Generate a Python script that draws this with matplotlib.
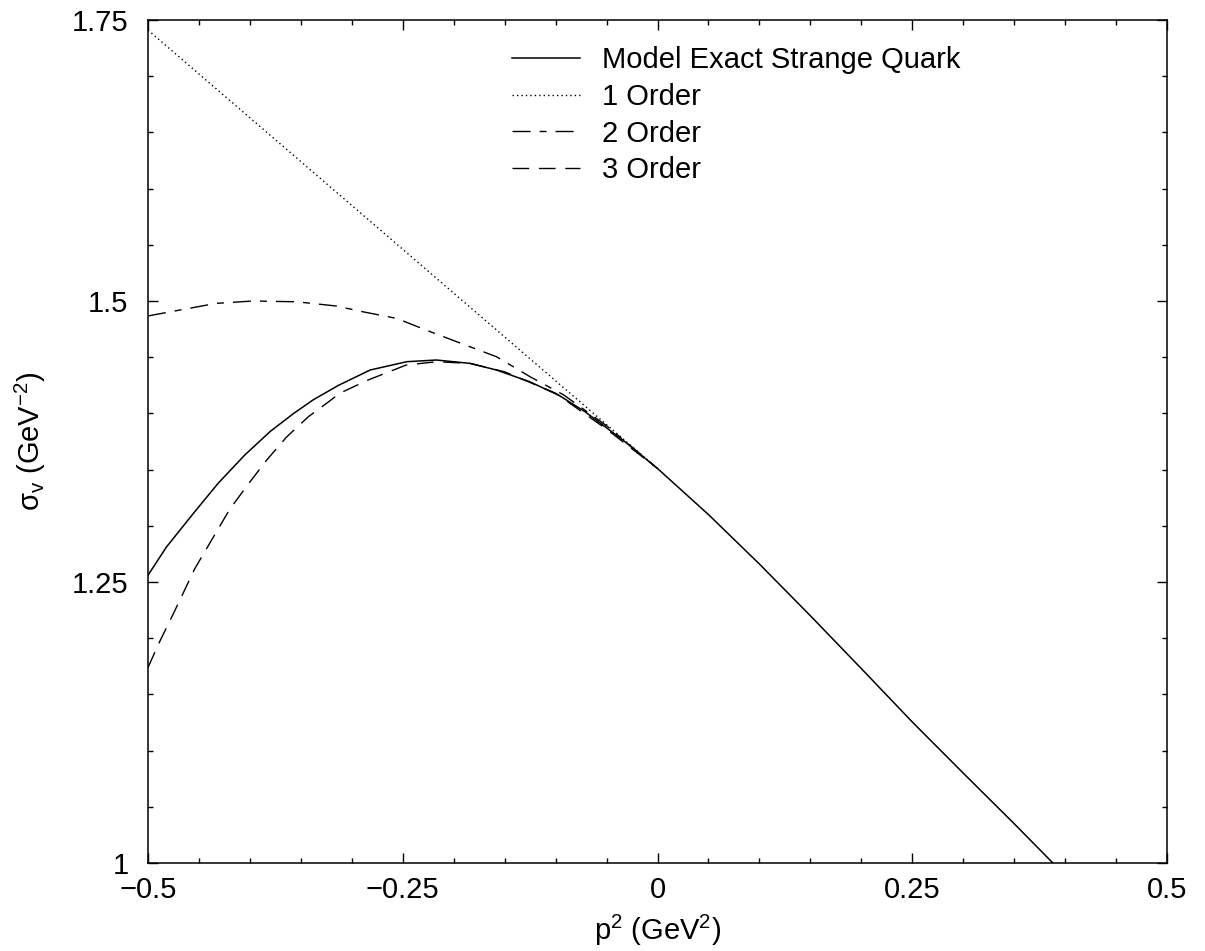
import numpy as np
import matplotlib
matplotlib.use('Agg')
import matplotlib.pyplot as plt
from matplotlib.ticker import MultipleLocator

plt.rcParams['font.family'] = ['Liberation Sans', 'DejaVu Sans']
plt.rcParams['mathtext.fontset'] = 'custom'
plt.rcParams['mathtext.rm'] = 'Liberation Sans'
plt.rcParams['mathtext.it'] = 'Liberation Sans'
plt.rcParams['mathtext.default'] = 'regular'

# exact strange quark curve
x_exact = [-0.5, -0.482, -0.4555, -0.431, -0.405, -0.380, -0.357, -0.338, -0.313,
           -0.282, -0.246, -0.217, -0.184, -0.158, -0.125, -0.096, -0.071, -0.034,
           0.0, 0.05, 0.1, 0.15, 0.2, 0.25, 0.3, 0.35, 0.388]
y_exact = [1.256, 1.281, 1.311, 1.338, 1.363, 1.384, 1.400, 1.412, 1.425,
           1.4386, 1.446, 1.4475, 1.4445, 1.4386, 1.428, 1.4157, 1.4014, 1.3763,
           1.351, 1.310, 1.266, 1.220, 1.173, 1.1255, 1.080, 1.035, 1.0]

# 1st order
x_o1 = [-0.5, 0.0]
y_o1 = [1.741, 1.351]

# 2nd order
x_o2 = [-0.5, -0.4655, -0.433, -0.397, -0.354, -0.315, -0.289, -0.256, -0.223,
        -0.184, -0.158, -0.125, -0.092, -0.05, 0.0]
y_o2 = [1.4867, 1.4925, 1.4979, 1.5000, 1.4993, 1.4955, 1.4904, 1.4845, 1.4727,
        1.4593, 1.4504, 1.4326, 1.4164, 1.389, 1.351]

# 3rd order
x_o3 = [-0.5, -0.488, -0.475, -0.454, -0.4196, -0.400, -0.3835, -0.364, -0.3427,
        -0.3247, -0.3117, -0.284, -0.2467, -0.2166, -0.184, -0.15, -0.1, -0.05, 0.0]
y_o3 = [1.174, 1.198, 1.222, 1.262, 1.315, 1.339, 1.3585, 1.379, 1.397,
        1.409, 1.418, 1.4297, 1.443, 1.446, 1.4445, 1.437, 1.418, 1.386, 1.351]

fig = plt.figure(figsize=(12.05, 9.51), dpi=100)
ax = fig.add_axes([148 / 1205, 88 / 951, 1019 / 1205, 843 / 951])

ax.plot(x_exact, y_exact, color='black', lw=1.1, label='Model Exact Strange Quark')
ax.plot(x_o1, y_o1, color='black', lw=1.0, linestyle=(0, (1, 2.2)), label='1 Order')
ax.plot(x_o2, y_o2, color='black', lw=1.0, linestyle=(0, (13, 6.5, 5, 6.5)), label='2 Order')
ax.plot(x_o3, y_o3, color='black', lw=1.0, linestyle=(0, (12, 7)), label='3 Order')

ax.set_xlim(-0.5, 0.5)
ax.set_ylim(1.0, 1.75)
ax.set_xticks([-0.5, -0.25, 0, 0.25, 0.5])
ax.set_xticklabels(['\u22120.5', '\u22120.25', '0', '0.25', '0.5'])
ax.set_yticks([1.0, 1.25, 1.5, 1.75])
ax.set_yticklabels(['1', '1.25', '1.5', '1.75'])
ax.xaxis.set_minor_locator(MultipleLocator(0.05))
ax.yaxis.set_minor_locator(MultipleLocator(0.05))
ax.tick_params(which='both', direction='in', top=True, right=True, width=1.0)
ax.tick_params(which='major', length=7, labelsize=21)
ax.tick_params(axis='x', which='major', pad=9)
ax.tick_params(axis='y', which='major', pad=14)
ax.tick_params(which='minor', length=3.6)
for s in ax.spines.values():
    s.set_linewidth(1.1)

ax.set_xlabel('p$^2$ (GeV$^2$)', fontsize=21, labelpad=7)
ax.set_ylabel('$\\sigma_v$ (GeV$^{-2}$)', fontsize=21, labelpad=17)

ax.legend(loc='upper left', bbox_to_anchor=(0.357, 0.969), frameon=False,
          fontsize=21, handlelength=2.35, handletextpad=0.75,
          labelspacing=0.3, borderpad=0, borderaxespad=0)

fig.savefig('out.png', dpi=100)
